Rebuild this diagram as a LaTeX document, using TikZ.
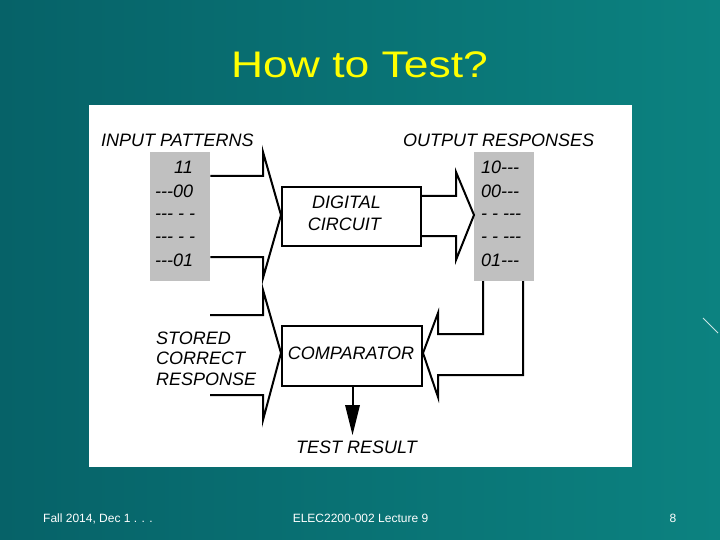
\documentclass[tikz,border=0pt]{standalone}
\usepackage{fontspec}
\setmainfont{Liberation Sans}
\newfontfamily\diagfont{Liberation Sans}
\usepackage{graphicx}
\definecolor{bgdark}{RGB}{6,98,104}
\definecolor{bglight}{RGB}{12,130,128}
\definecolor{ttl}{RGB}{255,255,0}
\definecolor{pat}{RGB}{192,192,192}
\begin{document}
\begin{tikzpicture}[x=1pt,y=-1pt,
  lbl/.style={inner sep=0pt, font=\diagfont\fontsize{18}{18}\selectfont\itshape},
  wire/.style={line width=2pt, line join=miter, line cap=butt},
  boxnode/.style={draw, line width=2pt, inner sep=0pt, anchor=north west},
  patbox/.style={fill=pat, inner sep=0pt, anchor=north west, minimum width=60pt, minimum height=129pt},
  foot/.style={inner sep=0pt, text=white, font=\fontsize{12}{12}\selectfont}]
\useasboundingbox (0,0) rectangle (720,540);
\shade[left color=bgdark, right color=bglight] (0,0) rectangle (720,540);
\draw[white!80!teal, line width=1pt] (703,318) -- (718,333);
% title
\node[inner sep=0pt, anchor=base, text=ttl, font=\fontsize{37}{37}\selectfont] (title) at (359.5,78) {\scalebox{1.2}[1]{How to Test?}};
% panel
\fill[white] (89,105) rectangle (632,467);
% pattern boxes
\node[patbox] (inbox) at (150,152) {};
\node[patbox] (outbox) at (474,152) {};
% headings
\node[lbl, anchor=base west] (inlbl) at (101,147) {INPUT PATTERNS};
\node[lbl, anchor=base west] (outlbl) at (403,147) {OUTPUT RESPONSES};
% input patterns
\node[lbl, anchor=base east] (i1) at (193,174) {11};
\node[lbl, anchor=base west] (i2) at (155,197) {---00};
\node[lbl, anchor=base west] (i3) at (155,220) {--- - -};
\node[lbl, anchor=base west] (i4) at (155,243) {--- - -};
\node[lbl, anchor=base west] (i5) at (155,266) {---01};
% output responses
\node[lbl, anchor=base west] (o1) at (481,174) {10---};
\node[lbl, anchor=base west] (o2) at (481,197) {00---};
\node[lbl, anchor=base west] (o3) at (481,220) {- - ---};
\node[lbl, anchor=base west] (o4) at (481,243) {- - ---};
\node[lbl, anchor=base west] (o5) at (481,266) {01---};
% boxes
\node[boxnode, minimum width=139pt, minimum height=59pt] (dc) at (281,186) {};
\node[lbl, anchor=base east] (dct1) at (381,208) {DIGITAL};
\node[lbl, anchor=base east] (dct2) at (381,230) {CIRCUIT};
\node[boxnode, minimum width=140pt, minimum height=60pt] (cmp) at (281,325) {};
\node[lbl, anchor=base] (cmpt) at (351,359) {COMPARATOR};
% stored response
\node[lbl, anchor=base west] (s1) at (156,344) {STORED};
\node[lbl, anchor=base west] (s2) at (156,364) {CORRECT};
\node[lbl, anchor=base west] (s3) at (156,385) {RESPONSE};
% test result
\node[lbl, anchor=base west] (res) at (296,453) {TEST RESULT};
% fat arrows
\draw[wire] (inbox.east |- 0,176) -- (263,176) -- (263,152) -- (dc.west |- 0,215) -- (263,278) -- (263,257) -- (inbox.east |- 0,257);
\draw[wire] (dc.east |- 0,196) -- (456,196) -- (456,172) -- (outbox.west |- 0,215) -- (456,260) -- (456,236) -- (dc.east |- 0,236);
\draw[wire] (210,315) -- (263,315) -- (263,290) -- (cmp.west |- 0,353) -- (263,420) -- (263,395) -- (210,395);
\draw[wire] (483,281) -- (483,334) -- (438,334) -- (438,313) -- (cmp.east |- 0,353) -- (438,397) -- (438,375) -- (523,375) -- (523,281);
% result arrow
\coordinate (tip) at (352.5,435);
\draw[line width=2pt] (cmp.south -| tip) -- (352.5,407);
\fill (345,405) -- (360,405) -- (tip) -- cycle;
% footer
\node[foot, anchor=base west] (f1) at (43,522) {Fall 2014, Dec 1 . . .};
\node[foot, anchor=base] (f2) at (360.5,522) {ELEC2200-002 Lecture 9};
\node[foot, anchor=base] (f3) at (673,522) {8};
\end{tikzpicture}
\end{document}
